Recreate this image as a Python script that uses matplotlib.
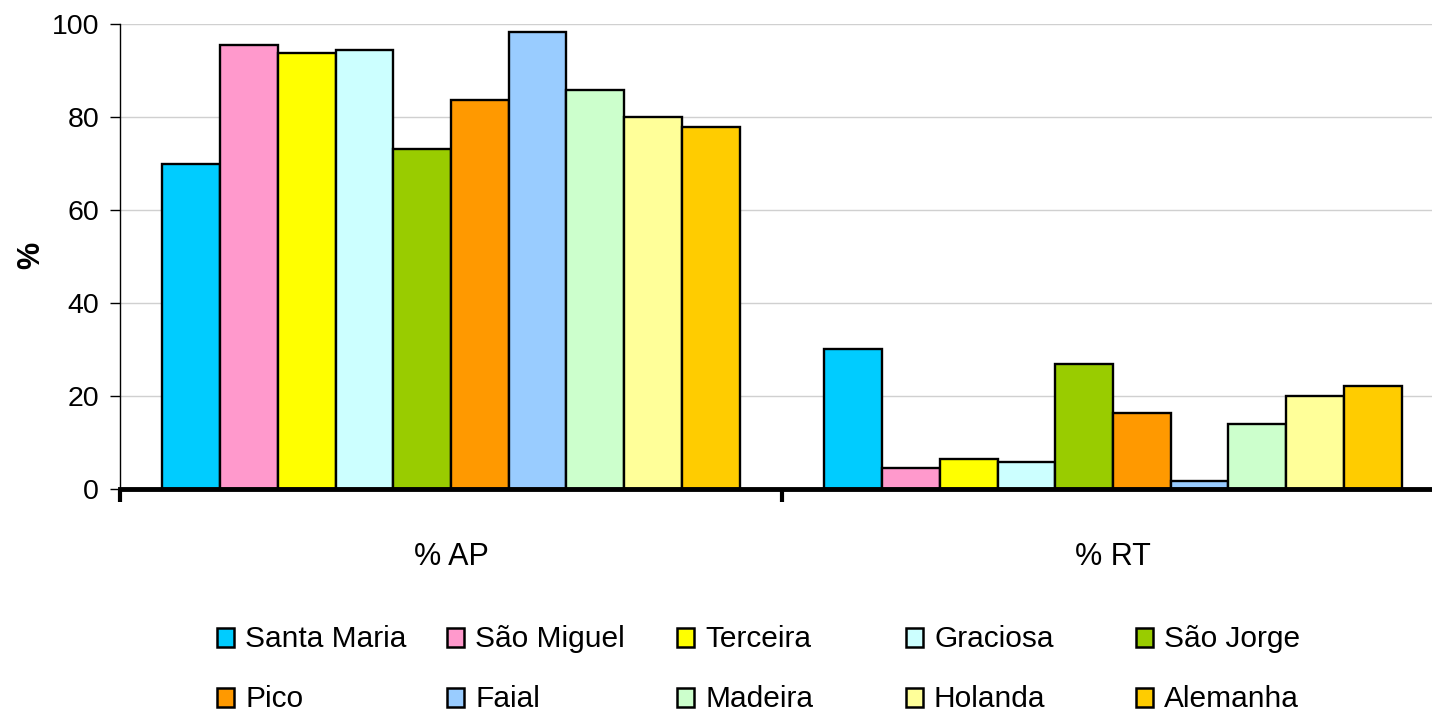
import matplotlib
matplotlib.use("Agg")
import matplotlib.pyplot as plt
from matplotlib.patches import Rectangle
import numpy as np

plt.rcParams['font.family'] = ['Liberation Sans', 'DejaVu Sans']

categories = ["% AP", "% RT"]
regions = ["Santa Maria", "São Miguel", "Terceira", "Graciosa", "São Jorge",
           "Pico", "Faial", "Madeira", "Holanda", "Alemanha"]
ap_values = [69.9, 95.4, 93.7, 94.4, 73.2, 83.6, 98.3, 85.9, 80.1, 77.9]
rt_values = [30.1, 4.6, 6.4, 5.7, 26.8, 16.4, 1.7, 14.0, 19.9, 22.1]
colors = ["#00CCFF", "#FF99CC", "#FFFF00", "#CCFFFF", "#99CC00",
          "#FF9900", "#99CCFF", "#CCFFCC", "#FFFF99", "#FFCC00"]
yticks = [0, 20, 40, 60, 80, 100]

W, H = 1432, 713
fig = plt.figure(figsize=(W / 100, H / 100), dpi=100)
ax = fig.add_axes([120 / W, (H - 489) / H, 1324 / W, 465 / H])

n = len(regions)
bar_w = 0.0872
x = np.arange(len(categories))
values = np.array([ap_values, rt_values]).T  # rows: regions
for i in range(n):
    offs = -n * bar_w / 2 + bar_w * (i + 0.5)
    ax.bar(x + offs, values[i], width=bar_w, color=colors[i],
           edgecolor="black", linewidth=1.7, zorder=3, label=regions[i])

ax.set_xlim(-0.5, 1.5)
ax.set_ylim(0, 100)
ax.set_yticks(yticks)
ax.yaxis.grid(True, color="#d0d0d0", linewidth=1.0, zorder=0)
ax.tick_params(axis="y", labelsize=20.5, length=7, width=1, direction="out", pad=8)

ax.set_xticks(x)
ax.set_xticklabels(categories)
ax.tick_params(axis="x", which="major", length=0, labelsize=22, pad=38)
ax.set_xticks([-0.5, 0.5, 1.5], minor=True)
ax.tick_params(axis="x", which="minor", length=9, width=3, direction="out")

for s in ["top", "right"]:
    ax.spines[s].set_visible(False)
ax.spines["left"].set_linewidth(1.0)
ax.spines["bottom"].set_linewidth(3.5)
ax.spines["bottom"].set_zorder(5)

ax.set_ylabel("%", fontsize=22, fontweight="bold")
ax.yaxis.set_label_coords((46 - 120) / 1324, 0.503)

# Legend laid out as a 5-column grid of colour swatches
col_left = [217, 447, 677, 906, 1136]
row_bottom = [647, 707]
sw_w, sw_h = 17, 19
for i, (name, c) in enumerate(zip(regions, colors)):
    r, k = divmod(i, 5)
    x0 = col_left[k]
    yb = row_bottom[r]
    fig.patches.append(Rectangle((x0 / W, (H - yb) / H), sw_w / W, sw_h / H,
                                 transform=fig.transFigure, facecolor=c,
                                 edgecolor="black", linewidth=1.8))
    fig.text((x0 + 28) / W, (H - yb) / H, name, fontsize=21.5,
             ha="left", va="baseline")

fig.savefig("out.png", dpi=100)
